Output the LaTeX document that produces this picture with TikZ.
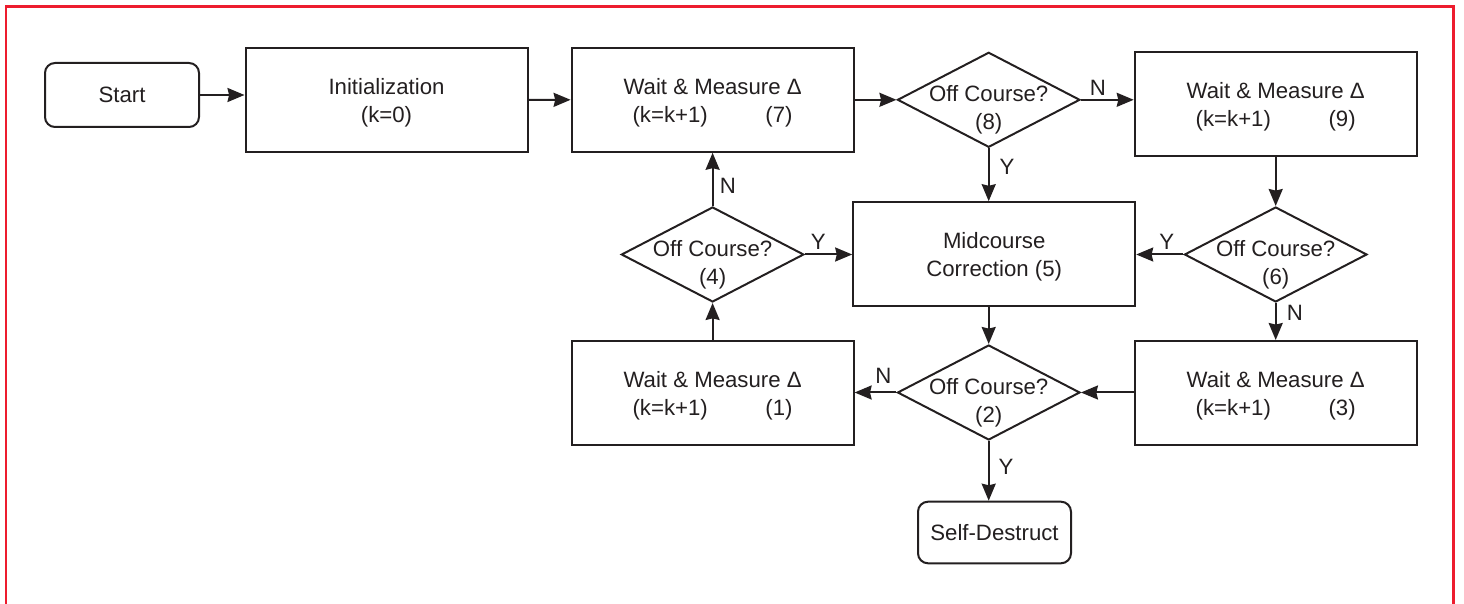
\documentclass[tikz,border=0pt]{standalone}
\usepackage{fontspec}
\setmainfont{Liberation Sans}
\usetikzlibrary{shapes.geometric,arrows.meta}
\definecolor{ink}{RGB}{35,31,32}
\definecolor{framered}{RGB}{237,28,46}
% first line of a box: a taller strut lowers the text block a little
\newcommand\firstline[1]{\rule{0pt}{11pt}#1}
% second line of a waiting step: counter update and step number
\newcommand\kline[1]{\makebox[80pt]{(k=k+1)\hfill(#1)}}
\begin{document}
\begin{tikzpicture}[x=0.5pt,y=-0.5pt,
  every node/.style={font=\fontsize{11.1}{14}\selectfont, text=ink},
  box/.style={draw=ink, line width=1pt, minimum width=141pt, minimum height=52pt, align=center, inner sep=0pt},
  term/.style={draw=ink, line width=1pt, rounded corners=5pt, align=center, inner sep=0pt},
  decision/.style={diamond, draw=ink, line width=1pt, minimum width=91.25pt, minimum height=47.5pt, inner sep=0pt, label={[dtext]center:#1}},
  dtext/.style={align=center, yshift=-5pt},
  flow/.style={draw=ink, line width=1pt, -{Stealth[length=8.5pt,width=7pt,inset=0.8pt]}},
  yn/.style={inner sep=0pt}
]
\useasboundingbox (0,0) rectangle (1464,604);

% open frame around the chart
\draw[framered, line width=1.3pt] (6,610) -- (6,6.7) -- (1453.3,6.7) -- (1453.3,610);

% process steps
\node[term, minimum width=77pt, minimum height=32pt] (start) at (122,95) {Start};
\node[box] (init) at (386.5,99.9) {\firstline{Initialization}\\(k=0)};
\node[box] (w7) at (712.6,99.8) {\firstline{Wait \& Measure Δ}\\\kline{7}};
\node[decision={Off Course?\\(8)}] (d8) at (988.7,99.8) {};
\node[box] (w9) at (1275.7,104.1) {\firstline{Wait \& Measure Δ}\\\kline{9}};
\node[decision={Off Course?\\(6)}] (d6) at (1275.7,254.5) {};
\node[box] (mid) at (994.2,254.2) {\firstline{Midcourse}\\Correction (5)};
\node[decision={Off Course?\\(4)}] (d4) at (712.6,254.5) {};
\node[box] (w1) at (712.6,393) {\firstline{Wait \& Measure Δ}\\\kline{1}};
\node[decision={Off Course?\\(2)}] (d2) at (988.7,392.5) {};
\node[box] (w3) at (1275.7,393) {\firstline{Wait \& Measure Δ}\\\kline{3}};
\node[term, minimum width=76.5pt, minimum height=30.8pt] (sd) at (994.5,532.5) {Self-Destruct};

% branch labels
\node[yn] (n8) at (1098,88) {N};
\node[yn] (y8) at (1007,167) {Y};
\node[yn] (n4) at (728,186) {N};
\node[yn] (y4) at (818.3,241.7) {Y};
\node[yn] (y6) at (1166.7,241.7) {Y};
\node[yn] (n6) at (1295,313) {N};
\node[yn] (n2) at (883.3,376) {N};
\node[yn] (y2) at (1006,467) {Y};

% connectors
\draw[flow] (start.east) -- (start.east -| init.west);
\draw[flow] (init.east) -- (w7.west);
\draw[flow] (w7.east) -- (d8.west);
\draw[flow] (d8.east) -- (d8.east -| w9.west);
\draw[flow] (d8.south) -- (d8.south |- mid.north);
\draw[flow] (w9.south) -- (d6.north);
\draw[flow] (d6.west) -- (d6.west -| mid.east);
\draw[flow] (d6.south) -- (w3.north);
\draw[flow] (d2.north |- mid.south) -- (d2.north);
\draw[flow] (w3.west |- d2.east) -- (d2.east);
\draw[flow] (d2.west) -- (d2.west -| w1.east);
\draw[flow] (d2.south) -- (d2.south |- sd.north);
\draw[flow] (w1.north) -- (d4.south);
\draw[flow] (d4.north) -- (w7.south);
\draw[flow] (d4.east) -- (d4.east -| mid.west);
\end{tikzpicture}
\end{document}
